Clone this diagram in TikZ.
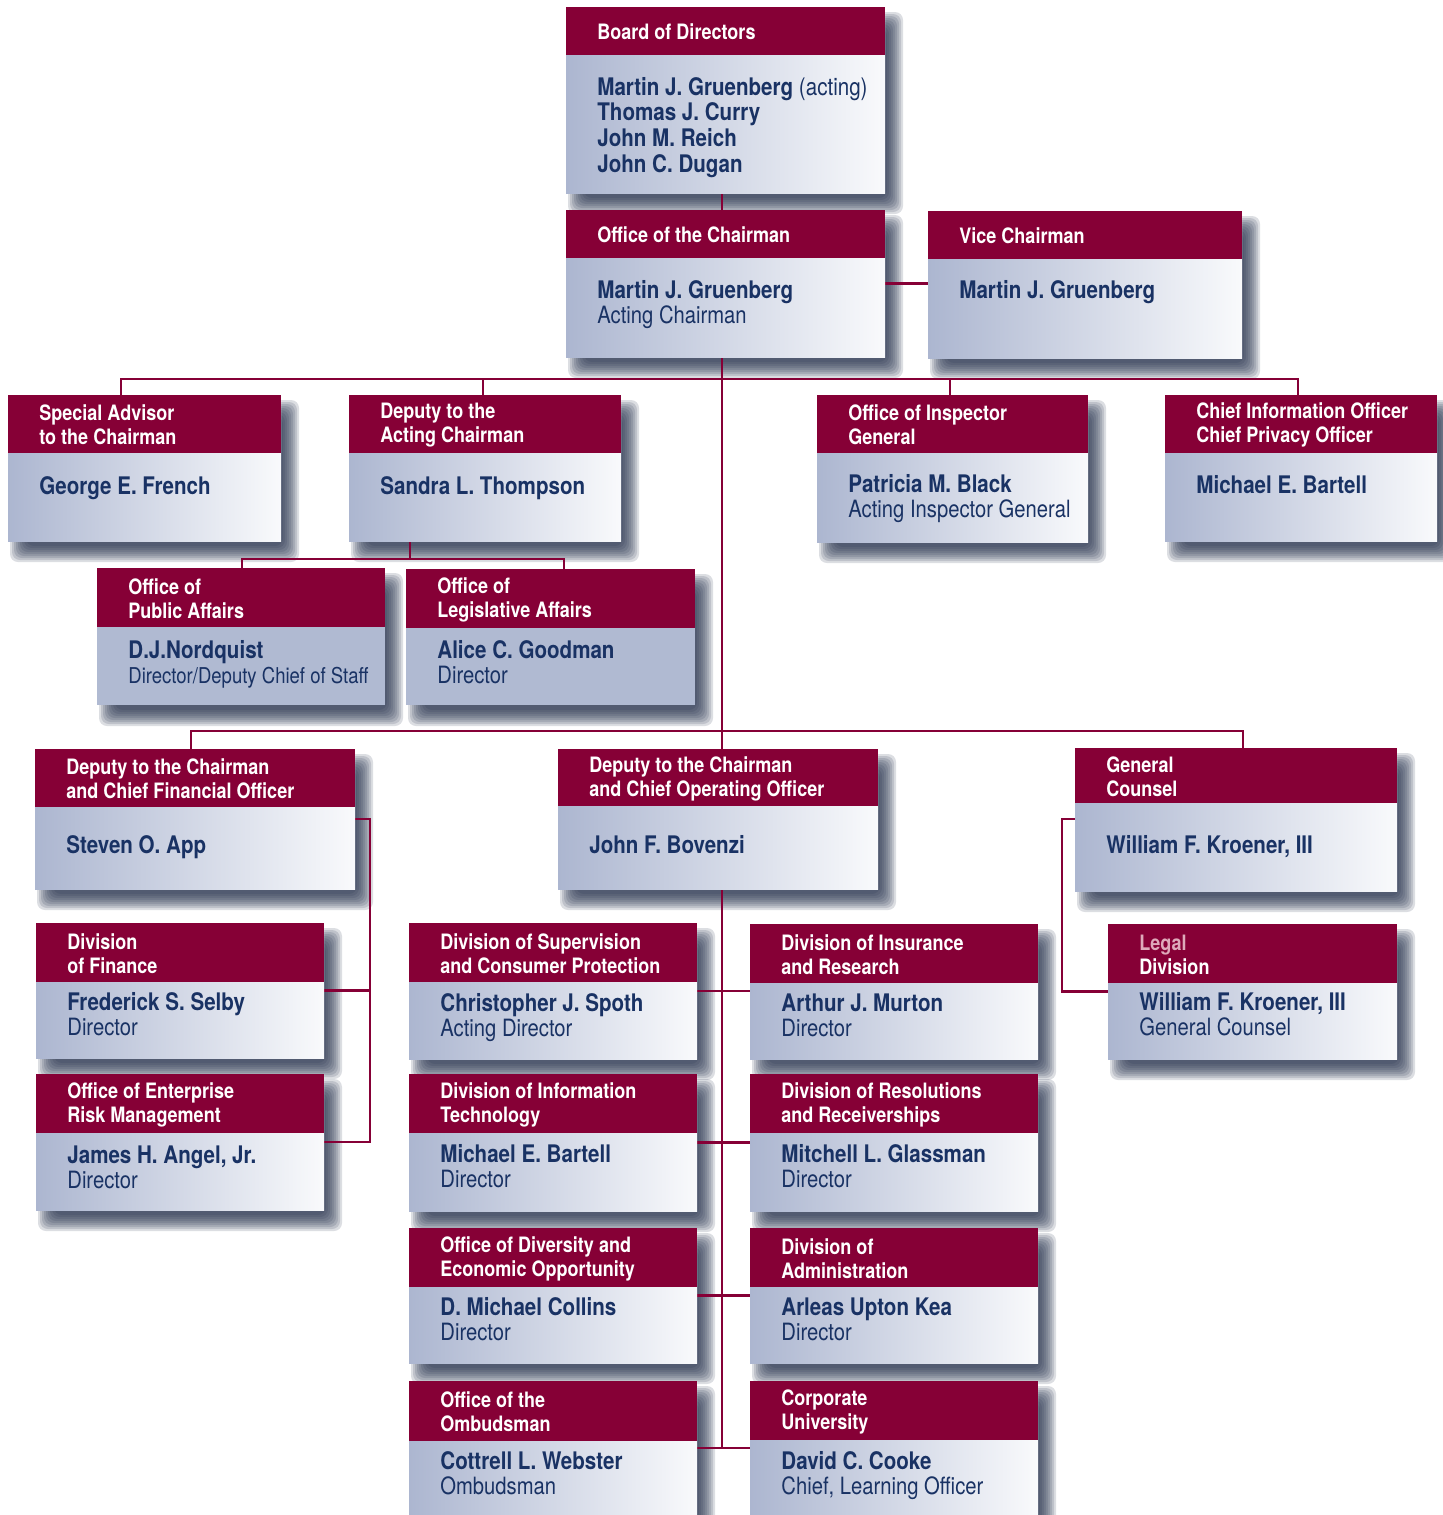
\documentclass[tikz,border=0pt]{standalone}
\usepackage{fontspec}
\setmainfont{TeX Gyre Heros}[FakeStretch=0.85]
\usetikzlibrary{fit,calc}
\definecolor{fdicred}{RGB}{134,0,54}
\definecolor{navy}{RGB}{25,50,100}
\definecolor{bodyL}{RGB}{172,182,208}
\definecolor{bodyR}{RGB}{249,250,252}
\definecolor{solidbody}{RGB}{176,186,210}
\definecolor{shadowc}{RGB}{40,52,78}
\definecolor{legalpink}{RGB}{222,170,186}
\pgfdeclarelayer{bg}\pgfdeclarelayer{shd}\pgfdeclarelayer{lns}
\pgfsetlayers{bg,shd,lns,main}
\tikzset{
  hdr/.style={fill=fdicred, inner sep=0pt, outer sep=0pt},
  gbody/.style={left color=bodyL, right color=bodyR, inner sep=0pt, outer sep=0pt},
  sbody/.style={fill=solidbody, inner sep=0pt, outer sep=0pt},
  ttl/.style={text=white, font=\fontsize{10.6}{12}\selectfont\bfseries, align=left, anchor=west, inner sep=0pt},
  nm/.style={text=navy, font=\fontsize{12.1}{13}\selectfont\bfseries, anchor=base west, inner sep=0pt},
  sub/.style={text=navy, font=\fontsize{11.9}{13}\selectfont, anchor=base west, inner sep=0pt},
  conn/.style={draw=fdicred, line width=1.2pt},
}
% name, x1, y1, x2, header bottom, y2, body style
\newcommand\orgbox[7]{%
  \begin{pgfonlayer}{shd}
    \foreach \e in {-8,-6,...,8} {\fill[shadowc, opacity=0.16, rounded corners=4pt] ({#2+10-\e},{#3+13-\e}) rectangle ({#4+10+\e},{#6+13+\e});}
  \end{pgfonlayer}
  \node[#7, fit={(#2,#3)(#4,#6)}] (#1) {};
  \node[hdr, fit={(#2,#3)(#4,#5)}] (#1-h) {};
}
\newcommand\ttitle[2]{\node[ttl, xshift=15.5pt, yshift=-0.5pt] (#1-t) at (#1-h.west) {#2};}
\newcommand\nline[3]{\node[nm, xshift=15.5pt, yshift=-4pt] (#1-n) at (#1.west |- 0,#2) {#3};}
\newcommand\sline[2]{\node[sub, yshift=-12.75pt] (#1-s) at (#1-n.base west) {#2};}
\begin{document}
\begin{tikzpicture}[x=0.5pt,y=-0.5pt]
\useasboundingbox (0,0) rectangle (1442,1515);
\begin{pgfonlayer}{bg}
\fill[white] (0,0) rectangle (1442,1515);
\end{pgfonlayer}

% Board of Directors
\orgbox{bod}{566}{7}{885}{55}{193}{gbody}
\ttitle{bod}{Board of Directors}
\node[nm, xshift=15.5pt, yshift=-4pt] (bod-n1) at (bod.west |- 0,87) {Martin J. Gruenberg \mdseries(acting)};
\node[nm, yshift=-12.85pt] (bod-n2) at (bod-n1.base west) {Thomas J. Curry};
\node[nm, yshift=-12.85pt] (bod-n3) at (bod-n2.base west) {John M. Reich};
\node[nm, yshift=-12.85pt] (bod-n4) at (bod-n3.base west) {John C. Dugan};

% Office of the Chairman
\orgbox{chair}{566}{210}{885}{258}{357}{gbody}
\ttitle{chair}{Office of the Chairman}
\nline{chair}{290}{Martin J. Gruenberg}
\sline{chair}{Acting Chairman}

% Vice Chairman
\orgbox{vice}{928}{211}{1242}{259}{358}{gbody}
\ttitle{vice}{Vice Chairman}
\nline{vice}{290}{Martin J. Gruenberg}

% Row 2
\orgbox{sa}{8}{395}{281}{453}{541}{gbody}
\ttitle{sa}{Special Advisor\\to the Chairman}
\nline{sa}{486}{George E. French}

\orgbox{dac}{349}{395}{621}{453}{541}{gbody}
\ttitle{dac}{Deputy to the\\Acting Chairman}
\nline{dac}{486}{Sandra L. Thompson}

\orgbox{oig}{817}{395}{1088}{453}{542}{gbody}
\ttitle{oig}{Office of Inspector\\General}
\nline{oig}{484}{Patricia M. Black}
\sline{oig}{Acting Inspector General}

\orgbox{cio}{1165}{395}{1437}{453}{541}{gbody}
\ttitle{cio}{Chief Information Officer\\Chief Privacy Officer}
\nline{cio}{485}{Michael E. Bartell}

% Row 3
\orgbox{opa}{97}{568}{385}{627}{705}{sbody}
\ttitle{opa}{Office of\\Public Affairs}
\nline{opa}{650}{D.J.Nordquist}
\node[sub, yshift=-12.75pt, font=\fontsize{10.9}{13}\selectfont] (opa-s) at (opa-n.base west) {Director/Deputy Chief of Staff};

\orgbox{ola}{406}{569}{695}{628}{705}{sbody}
\ttitle{ola}{Office of\\Legislative Affairs}
\nline{ola}{650}{Alice C. Goodman}
\sline{ola}{Director}

% Row 4
\orgbox{cfo}{35}{749}{355}{807}{889}{gbody}
\ttitle{cfo}{Deputy to the Chairman\\and Chief Financial Officer}
\nline{cfo}{845}{Steven O. App}

\orgbox{coo}{558}{749}{878}{806}{889}{gbody}
\ttitle{coo}{Deputy to the Chairman\\and Chief Operating Officer}
\nline{coo}{845}{John F. Bovenzi}

\orgbox{gc}{1075}{748}{1397}{803}{891}{gbody}
\ttitle{gc}{General\\Counsel}
\nline{gc}{845}{William F. Kroener, III}

% Row 5
\orgbox{dof}{36}{923}{324}{982}{1058}{gbody}
\ttitle{dof}{Division\\of Finance}
\nline{dof}{1002}{Frederick S. Selby}
\sline{dof}{Director}

\orgbox{dsc}{409}{923}{697}{982}{1059}{gbody}
\ttitle{dsc}{Division of Supervision\\and Consumer Protection}
\nline{dsc}{1003}{Christopher J. Spoth}
\sline{dsc}{Acting Director}

\orgbox{dir}{750}{924}{1038}{983}{1059}{gbody}
\ttitle{dir}{Division of Insurance\\and Research}
\nline{dir}{1003}{Arthur J. Murton}
\sline{dir}{Director}

\orgbox{legal}{1108}{924}{1397}{983}{1059}{gbody}
\ttitle{legal}{{\color{legalpink}Legal}\\Division}
\nline{legal}{1002}{William F. Kroener, III}
\sline{legal}{General Counsel}

% Row 6
\orgbox{erm}{36}{1074}{324}{1133}{1210}{gbody}
\ttitle{erm}{Office of Enterprise\\Risk Management}
\nline{erm}{1155}{James H. Angel, Jr.}
\sline{erm}{Director}

\orgbox{dit}{409}{1074}{697}{1133}{1211}{gbody}
\ttitle{dit}{Division of Information\\Technology}
\nline{dit}{1154}{Michael E. Bartell}
\sline{dit}{Director}

\orgbox{drr}{750}{1074}{1038}{1133}{1211}{gbody}
\ttitle{drr}{Division of Resolutions\\and Receiverships}
\nline{drr}{1154}{Mitchell L. Glassman}
\sline{drr}{Director}

% Row 7
\orgbox{odeo}{409}{1228}{697}{1287}{1363}{gbody}
\ttitle{odeo}{Office of Diversity and\\Economic Opportunity}
\nline{odeo}{1307}{D. Michael Collins}
\sline{odeo}{Director}

\orgbox{doa}{750}{1228}{1038}{1287}{1363}{gbody}
\ttitle{doa}{Division of\\Administration}
\nline{doa}{1307}{Arleas Upton Kea}
\sline{doa}{Director}

% Row 8
\orgbox{omb}{409}{1381}{697}{1441}{1515}{gbody}
\ttitle{omb}{Office of the\\Ombudsman}
\nline{omb}{1461}{Cottrell L. Webster}
\sline{omb}{Ombudsman}

\orgbox{cu}{750}{1381}{1038}{1440}{1515}{gbody}
\ttitle{cu}{Corporate\\University}
\nline{cu}{1461}{David C. Cooke}
\sline{cu}{Chief, Learning Officer}

% Connectors
\begin{pgfonlayer}{lns}
\coordinate (tk) at (722,0);
\draw[conn] (bod.south -| tk) -- (chair.north -| tk);
\draw[conn] (chair.east) -- (chair.east -| vice.west);
\draw[conn] (chair.south -| tk) -- (coo.north -| tk);
\coordinate (busL) at (121,379);
\coordinate (busR) at (1298,379);
\coordinate (dacd) at (483,379);
\coordinate (oigd) at (950,379);
\draw[conn] (busL |- sa.north) -- (busL) -- (busR) -- (busR |- cio.north);
\draw[conn] (dacd) -- (dacd |- dac.north);
\draw[conn] (oigd) -- (oigd |- oig.north);
\coordinate (dacx) at (410,559);
\coordinate (paL) at (242,559);
\coordinate (paR) at (564,559);
\draw[conn] (dacx |- dac.south) -- (dacx);
\draw[conn] (paL |- opa.north) -- (paL) -- (paR) -- (paR |- ola.north);
\coordinate (bus2L) at (191,731);
\coordinate (bus2R) at (1243,731);
\draw[conn] (bus2L |- cfo.north) -- (bus2L) -- (bus2R) -- (bus2R |- gc.north);
\draw[conn] (coo.south -| tk) -- (tk |- omb.east);
\draw[conn] (dsc.east) -- (dsc.east -| dir.west);
\draw[conn] (dit.east) -- (dit.east -| drr.west);
\draw[conn] (odeo.east) -- (odeo.east -| doa.west);
\draw[conn] (omb.east) -- (omb.east -| cu.west);
\coordinate (cfoR) at (370,819);
\draw[conn] (cfo.east |- cfoR) -- (cfoR) -- (cfoR |- erm.east) -- (erm.east);
\draw[conn] (dof.east) -- (dof.east -| cfoR);
\coordinate (gcL) at (1062,819);
\draw[conn] (gc.west |- gcL) -- (gcL) -- (gcL |- legal.west) -- (legal.west);
\end{pgfonlayer}
\end{tikzpicture}
\end{document}
